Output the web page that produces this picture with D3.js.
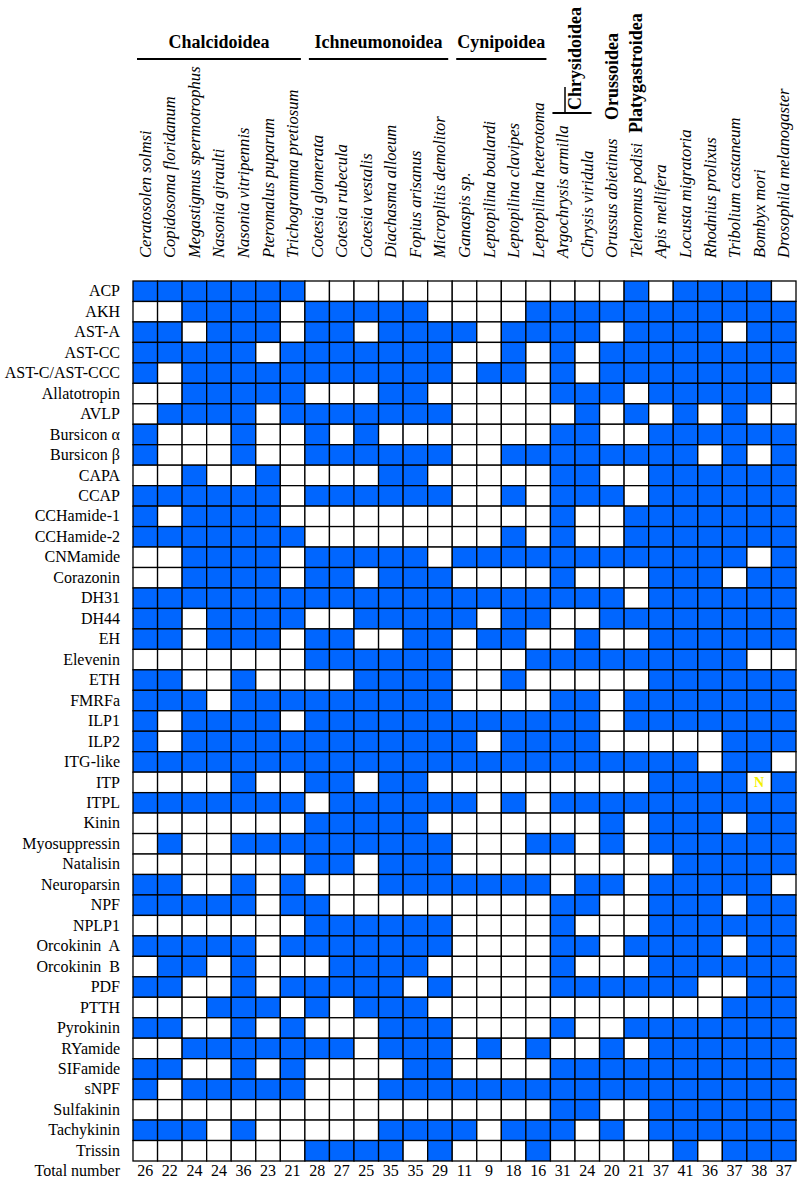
<!DOCTYPE html>
<html lang="en">
    <head>
        <meta charset="utf-8">
        <title>Neuropeptide presence</title>
        <script src="https://d3js.org/d3.v7.min.js"></script>
        <style type="text/css">
            body { margin: 0; background: #fff; }
            text { font-family: "Liberation Serif", "Times New Roman", serif; fill: #000; }
        </style>
    </head>
    <body>
        <script type="text/javascript">

            //1. consts
            const svgW = 800;
            const svgH = 1181;
            const gridLeft = 133, gridRight = 796;
            const gridTop = 281, gridBottom = 1161;
            const blue = "#0066ff";

            //2. data
            const species = [
                "Ceratosolen solmsi", "Copidosoma floridanum", "Megastigmus spermotrophus",
                "Nasonia giraulti", "Nasonia vitripennis", "Pteromalus puparum", "Trichogramma pretiosum",
                "Cotesia glomerata", "Cotesia rubecula", "Cotesia vestalis", "Diachasma alloeum",
                "Fopius arisanus", "Microplitis demolitor",
                "Ganaspis sp.", "Leptopilina boulardi", "Leptopilina clavipes", "Leptopilina heterotoma",
                "Argochrysis armilla", "Chrysis viridula", "Orussus abietinus", "Telenomus podisi",
                "Apis mellifera", "Locusta migratoria", "Rhodnius prolixus", "Tribolium castaneum",
                "Bombyx mori", "Drosophila melanogaster"
            ];

            // superfamilies: [name, first column, last column]
            const flatGroups = [["Chalcidoidea", 0, 6], ["Ichneumonoidea", 7, 12], ["Cynipoidea", 13, 16]];
            const uprightGroups = [["Chrysidoidea", 17, 18], ["Orussoidea", 19, 19], ["Platygastroidea", 20, 20]];

            const peptides = [
                "ACP", "AKH", "AST-A", "AST-CC", "AST-C/AST-CCC", "Allatotropin", "AVLP",
                "Bursicon \u03b1", "Bursicon \u03b2", "CAPA", "CCAP", "CCHamide-1", "CCHamide-2",
                "CNMamide", "Corazonin", "DH31", "DH44", "EH", "Elevenin", "ETH", "FMRFa",
                "ILP1", "ILP2", "ITG-like", "ITP", "ITPL", "Kinin", "Myosuppressin", "Natalisin",
                "Neuroparsin", "NPF", "NPLP1", "Orcokinin  A", "Orcokinin  B", "PDF", "PTTH",
                "Pyrokinin", "RYamide", "SIFamide", "sNPF", "Sulfakinin", "Tachykinin", "Trissin"
            ];

            // 1 = found, 0 = not found, N = special mark; one string per peptide, species in order
            const presence = [
                "1111111 000000 0000 00 0 1 011110",
                "0011110 111110 0001 11 1 1 111111",
                "1101110 110111 1011 11 0 1 111011",
                "1111101 111111 0010 10 1 1 111111",
                "1011111 111111 0110 10 1 1 111111",
                "0011111 000110 0000 11 1 0 111110",
                "0111101 111111 0000 01 0 1 010100",
                "1000100 101000 0000 11 0 0 111111",
                "1000100 111111 0011 11 1 1 110101",
                "0010010 000110 0000 11 0 0 111111",
                "1111110 111111 0010 11 1 0 111111",
                "1011110 000000 0000 10 0 1 111111",
                "1111111 000000 0010 10 0 1 111111",
                "0011110 111110 1111 11 1 1 111101",
                "0011110 110111 0000 10 0 0 111011",
                "1111111 111111 1111 11 1 0 111111",
                "1101111 001111 1011 00 1 1 111111",
                "1101110 110011 0110 01 0 0 111111",
                "0000000 111111 0001 11 1 1 111100",
                "1100100 001111 0010 00 0 0 111111",
                "1110111 111111 0000 11 0 1 111111",
                "1011110 111111 1111 11 0 1 111111",
                "1011111 111111 1011 11 0 0 000111",
                "1111111 111111 1111 11 1 1 110110",
                "0000100 110110 0000 00 0 0 1111N1",
                "1111111 011111 1010 11 1 1 111111",
                "0000000 111110 0000 00 1 0 111011",
                "0100111 111111 0001 10 1 0 111111",
                "0000000 110111 0000 00 0 0 011111",
                "1100101 000111 1111 01 1 0 111110",
                "1111101 100000 0000 11 0 0 111011",
                "0000000 111111 0000 10 0 0 111111",
                "1111101 111111 0000 11 0 1 111011",
                "0110100 011110 0000 10 0 0 111111",
                "1100101 111101 0000 11 1 1 110011",
                "0001110 101110 0000 00 0 0 000111",
                "1100101 000111 0000 10 0 1 111111",
                "0011111 110111 0101 00 1 0 111111",
                "1100101 000011 0000 11 1 1 111111",
                "1011111 000111 1111 11 1 1 111111",
                "0000000 000000 0000 11 0 0 111111",
                "1110100 000111 1011 10 1 0 111111",
                "0000000 111101 0001 00 0 0 010111"
            ];

            const totals = [26, 22, 24, 24, 36, 23, 21, 28, 27, 25, 35, 35, 29, 11, 9, 18, 16, 31, 24, 20, 21, 37, 41, 36, 37, 38, 37];

            //3. scales
            const xScale = d3.scaleBand()
                            .domain(species)
                            .range([gridLeft, gridRight]);

            const yScale = d3.scaleBand()
                            .domain(peptides)
                            .range([gridTop, gridBottom]);

            const cells = [];
            presence.forEach((row, i) => {
                row.replace(/ /g, "").split("").forEach((v, j) => {
                    cells.push({peptide: peptides[i], species: species[j], v: v});
                });
            });

            //4. svg
            const svg = d3.select("body")
                        .append("svg")
                        .attr("width", svgW)
                        .attr("height", svgH);

            svg.selectAll("rect.cell")
                .data(cells)
                .enter()
                .append("rect")
                .attr("class", "cell")
                .attr("x", d => xScale(d.species))
                .attr("y", d => yScale(d.peptide))
                .attr("width", xScale.bandwidth())
                .attr("height", yScale.bandwidth())
                .attr("fill", d => d.v === "1" ? blue : "#fff")
                .attr("stroke", "#000")
                .attr("stroke-width", 1.3);

            // the N mark
            svg.selectAll("text.mark")
                .data(cells.filter(d => d.v === "N"))
                .enter()
                .append("text")
                .attr("class", "mark")
                .attr("x", d => xScale(d.species) + xScale.bandwidth() / 2)
                .attr("y", d => yScale(d.peptide) + yScale.bandwidth() / 2)
                .attr("dy", "0.35em")
                .attr("text-anchor", "middle")
                .attr("font-size", "14px")
                .attr("font-weight", "bold")
                .style("fill", "#f4f000")
                .text("N");

            // peptide names (left axis, no line)
            const leftAxis = d3.axisLeft(yScale).tickSize(0).tickPadding(13);
            const gy = svg.append("g")
                .attr("transform", "translate(" + gridLeft + ",0)")
                .call(leftAxis);
            gy.select(".domain").remove();
            gy.selectAll("text")
                .attr("font-family", "Liberation Serif")
                .attr("font-size", "16px")
                .style("white-space", "pre")
                .style("fill", "#000");

            // species names, rotated
            svg.selectAll("text.sp")
                .data(species)
                .enter()
                .append("text")
                .attr("class", "sp")
                .attr("transform", d => "translate(" + (xScale(d) + xScale.bandwidth() / 2) + ",258) rotate(-90)")
                .attr("dy", "0.33em")
                .attr("font-size", "16.6px")
                .attr("font-style", "italic")
                .text(d => d);

            // superfamilies with underline
            flatGroups.forEach(g => {
                const x0 = xScale(species[g[1]]) + 4;
                const x1 = xScale(species[g[2]]) + xScale.bandwidth() - 4;
                svg.append("text")
                    .attr("x", (x0 + x1) / 2)
                    .attr("y", 48)
                    .attr("text-anchor", "middle")
                    .attr("font-size", "18px")
                    .attr("font-weight", "bold")
                    .text(g[0]);
                svg.append("line")
                    .attr("x1", x0).attr("x2", x1)
                    .attr("y1", 59).attr("y2", 59)
                    .attr("stroke", "#000")
                    .attr("stroke-width", 2);
            });

            // upright superfamily names
            const uprightBottom = [110, 120, 133];
            uprightGroups.forEach((g, i) => {
                const cx = (xScale(species[g[1]]) + xScale(species[g[2]]) + xScale.bandwidth()) / 2;
                svg.append("text")
                    .attr("transform", "translate(" + cx + "," + uprightBottom[i] + ") rotate(-90)")
                    .attr("dy", "0.33em")
                    .attr("font-size", "18px")
                    .attr("font-weight", "bold")
                    .text(g[0]);
            });

            // bracket for Chrysidoidea
            const chX0 = xScale(species[17]) + 2;
            const chX1 = xScale(species[18]) + xScale.bandwidth() - 8;
            svg.append("line")
                .attr("x1", chX0).attr("x2", chX1)
                .attr("y1", 113).attr("y2", 113)
                .attr("stroke", "#000").attr("stroke-width", 2);
            svg.append("line")
                .attr("x1", xScale(species[18]) - 10).attr("x2", xScale(species[18]) - 10)
                .attr("y1", 87).attr("y2", 113)
                .attr("stroke", "#000").attr("stroke-width", 1.5);

            // total number row
            svg.append("text")
                .attr("x", gridLeft - 13)
                .attr("y", 1176)
                .attr("text-anchor", "end")
                .attr("font-size", "16px")
                .text("Total number");

            svg.selectAll("text.total")
                .data(totals)
                .enter()
                .append("text")
                .attr("class", "total")
                .attr("x", (d, i) => xScale(species[i]) + xScale.bandwidth() / 2)
                .attr("y", 1176)
                .attr("text-anchor", "middle")
                .attr("font-size", "16px")
                .text(d => d);

        </script>
    </body>
</html>
